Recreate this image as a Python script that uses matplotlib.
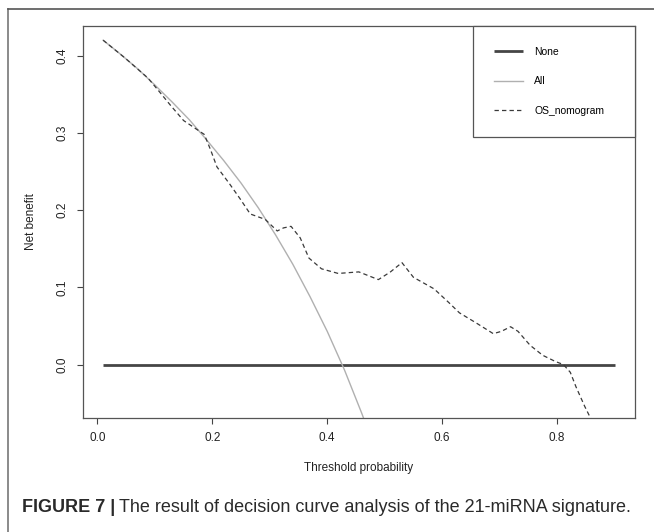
import matplotlib
matplotlib.use("Agg")
import matplotlib.pyplot as plt
from matplotlib.lines import Line2D

# ---- data ----
none_x = [0.01, 0.90]
none_y = [0.0, 0.0]

all_x = [0.01, 0.04, 0.07, 0.10, 0.13, 0.16, 0.19, 0.22, 0.25, 0.28, 0.31, 0.34, 0.37,
         0.40, 0.43, 0.46, 0.47]
all_y = [0.420, 0.402, 0.383, 0.362, 0.340, 0.317, 0.291, 0.264, 0.235, 0.203, 0.168,
         0.130, 0.088, 0.043, -0.007, -0.063, -0.083]

nomo_x = [0.010, 0.048, 0.088, 0.106, 0.128, 0.150, 0.172, 0.186, 0.197, 0.208, 0.230,
          0.248, 0.266, 0.292, 0.313, 0.324, 0.337, 0.353, 0.368, 0.390, 0.419, 0.455,
          0.489, 0.510, 0.530, 0.550, 0.586, 0.612, 0.630, 0.659, 0.689, 0.703, 0.719,
          0.732, 0.753, 0.775, 0.797, 0.811, 0.823, 0.833, 0.848, 0.862]
nomo_y = [0.420, 0.397, 0.371, 0.355, 0.335, 0.316, 0.305, 0.298, 0.278, 0.256, 0.234,
          0.215, 0.195, 0.188, 0.173, 0.177, 0.179, 0.164, 0.138, 0.124, 0.118, 0.120,
          0.110, 0.120, 0.132, 0.113, 0.098, 0.080, 0.067, 0.054, 0.040, 0.043, 0.049,
          0.043, 0.025, 0.012, 0.004, 0.000, -0.010, -0.029, -0.054, -0.075]

labels = ["None", "All", "OS_nomogram"]
xticks = [0.0, 0.2, 0.4, 0.6, 0.8]
yticks = [0.0, 0.1, 0.2, 0.3, 0.4]

W, H = 654, 532
fig = plt.figure(figsize=(W / 100, H / 100), dpi=100)
fam = ["Liberation Sans Narrow", "Liberation Sans", "DejaVu Sans"]
plt.rcParams["font.family"] = fam

ax = fig.add_axes([82.7 / W, 1 - 417.7 / H, (635 - 82.7) / W, (417.7 - 25.7) / H])
ax.plot(none_x, none_y, color="#454545", lw=2.0, solid_capstyle="butt", label=labels[0])
ax.plot(all_x, all_y, color="#b0b0b0", lw=1.0, label=labels[1])
ax.plot(nomo_x, nomo_y, color="#3a3a3a", lw=0.9, ls=(0, (3.5, 2.5)), label=labels[2])

ax.set_xlim(-0.0256, 0.9356)
ax.set_ylim(-0.0688, 0.4388)
ax.set_xticks(xticks)
ax.set_xticklabels([f"{v:.1f}" for v in xticks])
ax.set_yticks(yticks)
ax.set_yticklabels([f"{v:.1f}" for v in yticks], rotation=90, va="center")
ax.tick_params(axis="both", labelsize=8.5, length=4.5, width=0.8, color="#444444",
               labelcolor="#222222")
ax.tick_params(axis="x", pad=6)
ax.tick_params(axis="y", pad=6)
for s in ax.spines.values():
    s.set_color("#555555")
    s.set_linewidth(0.9)

ax.set_xlabel("Threshold probability", fontsize=8.5, color="#222222", labelpad=13)
ax.set_ylabel("Net benefit", fontsize=8.5, color="#222222", labelpad=14)

# legend box (R-style) in the top-right corner
x0 = (473 - 82.7) / (635 - 82.7)
y0 = (417.7 - 135) / (417.7 - 25.7)
leg = ax.legend(loc="upper left", bbox_to_anchor=(x0, y0, 1 - x0, 1 - y0), mode="expand",
                borderaxespad=0, fancybox=False, edgecolor="#555555", framealpha=1,
                fontsize=7.5, handlelength=2.8, handletextpad=1.1, labelspacing=1.9,
                borderpad=2.0)
leg.get_frame().set_linewidth(0.9)

# outer frame of the figure panel (left and top edges only)
fig.add_artist(Line2D([8 / W, 8 / W], [0, 1 - 9 / H], color="#777777", lw=1.2))
fig.add_artist(Line2D([8 / W, 1.0], [1 - 9 / H, 1 - 9 / H], color="#555555", lw=1.2))

# caption
cy = 1 - 508 / H
t1 = fig.text(22 / W, cy, "FIGURE 7 |", fontsize=13.0, fontweight="bold", va="center",
              color="#2a2a2a")
fig.canvas.draw()
bb = t1.get_window_extent(renderer=fig.canvas.get_renderer())
fig.text((bb.x1 + 4) / W, cy, "The result of decision curve analysis of the 21-miRNA signature.",
         fontsize=13.0, va="center", color="#2a2a2a")

fig.savefig("out.png", dpi=100)
